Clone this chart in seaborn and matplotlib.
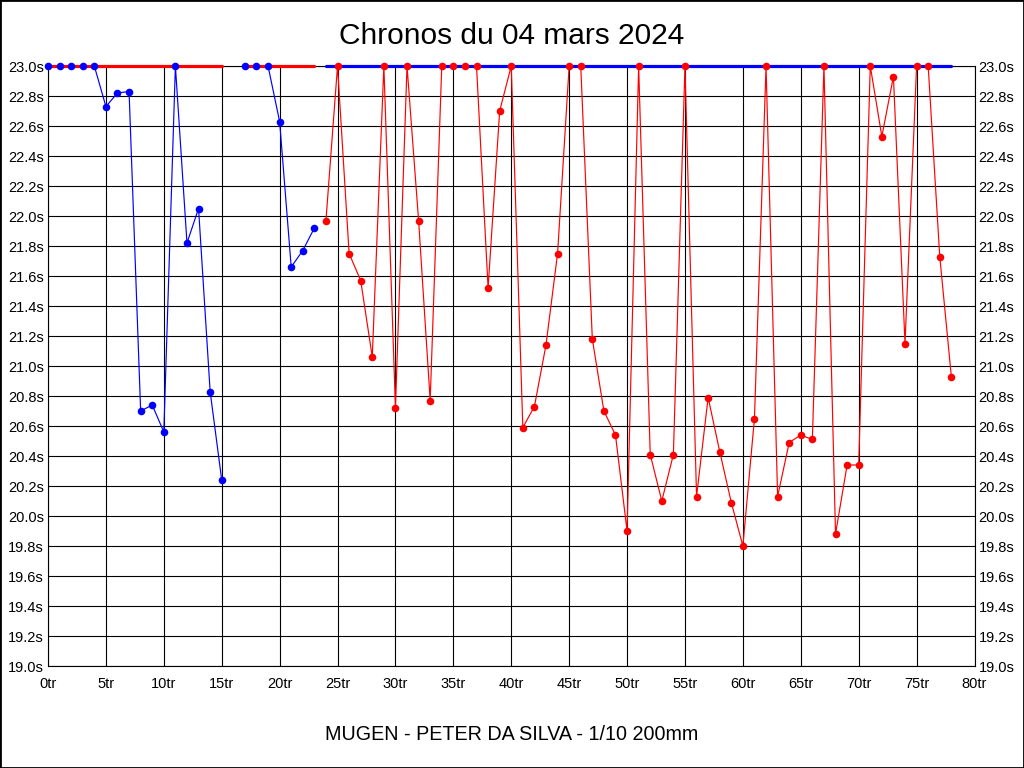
import numpy as np
import pandas as pd
import matplotlib
matplotlib.use("Agg")
import matplotlib.pyplot as plt
from matplotlib.patches import Rectangle
import seaborn as sns

# ---------------- data ----------------
INF = np.inf   # lap time above the scale (drawn as a bar on the top edge)
NA = np.nan    # no lap

laps = list(range(0, 79))

blue_times = [23.0, 23.0, 23.0, 23.0, 23.0, 22.73, 22.82, 22.83, 20.70, 20.74,
              20.56, 23.0, 21.82, 22.05, 20.83, 20.24, NA, 23.0, 23.0, 23.0,
              22.63, 21.66, 21.77, 21.92] + [INF] * 55

red_times = [INF] * 16 + [NA] + [INF] * 7 + [
    21.97, 23.0, 21.75, 21.57, 21.06, 23.0, 20.72, 23.0, 21.97, 20.77,
    23.0, 23.0, 23.0, 23.0, 21.52, 22.70, 23.0, 20.59, 20.73, 21.14,
    21.75, 23.0, 23.0, 21.18, 20.70, 20.54, 19.90, 23.0, 20.41, 20.10,
    20.41, 23.0, 20.13, 20.79, 20.43, 20.09, 19.80, 20.65, 23.0, 20.13,
    20.49, 20.54, 20.51, 23.0, 19.88, 20.34, 20.34, 23.0, 22.53, 22.93,
    21.15, 23.0, 23.0, 21.73, 20.93]

series_names = ["blue", "red"]
series_colors = {"blue": "#0000FF", "red": "#FF0000"}

y_ticks = [19.0 + 0.2 * i for i in range(21)]
y_labels = [f"{v:.1f}s" for v in y_ticks]
x_ticks = list(range(0, 81, 5))
x_labels = [f"{v}tr" for v in x_ticks]

title = "Chronos du 04 mars 2024"
subtitle = "MUGEN - PETER DA SILVA - 1/10 200mm"
Y_MIN, Y_MAX = 19.0, 23.0


def segments(name, values):
    """Split a series into runs of finite values and runs of above-scale values."""
    rows = []
    seg = 0
    prev_kind = None
    for lap, v in zip(laps, values):
        if np.isnan(v):
            kind = None
        elif np.isinf(v):
            kind = "over"
        else:
            kind = "data"
        if kind != prev_kind:
            seg += 1
        prev_kind = kind
        if kind is None:
            continue
        rows.append({"lap": lap, "time": min(v, Y_MAX), "series": name,
                     "kind": kind, "seg": f"{name}-{seg}"})
    return rows


rows = segments("blue", blue_times) + segments("red", red_times)
df = pd.DataFrame(rows)

# ---------------- plot ----------------
sns.set_style("white")
plt.rcParams["font.family"] = ["Liberation Sans", "DejaVu Sans"]
plt.rcParams["text.color"] = "black"
plt.rcParams["xtick.color"] = "black"
plt.rcParams["ytick.color"] = "black"

fig = plt.figure(figsize=(10.24, 7.68), dpi=100)
ax = fig.add_axes([48 / 1024, 1 - 666 / 768, 926.5 / 1024, 600 / 768])

data_df = df[df["kind"] == "data"]
over_df = df[df["kind"] == "over"]

# thin lines
for name in series_names:
    sub = data_df[data_df["series"] == name]
    sns.lineplot(data=sub, x="lap", y="time", units="seg", estimator=None,
                 color=series_colors[name], linewidth=0.85, ax=ax,
                 legend=False, zorder=3, sort=False)

# thick bars on the top edge for laps above the scale
for name in series_names:
    sub = over_df[over_df["series"] == name]
    sns.lineplot(data=sub, x="lap", y="time", units="seg", estimator=None,
                 color=series_colors[name], linewidth=2.3, ax=ax,
                 legend=False, zorder=4, sort=False)

# markers
for name in series_names:
    sub = data_df[data_df["series"] == name]
    sns.scatterplot(data=sub, x="lap", y="time", color=series_colors[name],
                    s=30, linewidth=0, ax=ax, legend=False, zorder=5)

for coll in ax.collections:
    coll.set_clip_on(False)
for ln in ax.lines:
    ln.set_clip_on(False)

ax.set_xlim(0, 80)
ax.set_ylim(Y_MIN, Y_MAX)
ax.set_xticks(x_ticks)
ax.set_xticklabels(x_labels)
ax.set_yticks(y_ticks)
ax.set_yticklabels(y_labels)
ax.tick_params(axis="both", length=0, labelsize=10.5, colors="black",
               labelcolor="black")
ax.tick_params(axis="y", pad=3, labelright=True, right=False)
ax.tick_params(axis="x", pad=8)
ax.set_xlabel("")
ax.set_ylabel("")
ax.grid(True, color="black", linewidth=0.8)
ax.set_axisbelow(True)
for sp in ax.spines.values():
    sp.set_color("black")
    sp.set_linewidth(0.8)

fig.text(0.5, 1 - 36 / 768, title, ha="center", va="center", fontsize=21.5,
         color="black")
fig.text(0.5, 1 - 734 / 768, subtitle, ha="center", va="center", fontsize=14.2,
         color="black")
fig.add_artist(Rectangle((0, 0), 1, 1, transform=fig.transFigure, fill=False,
                         edgecolor="black", linewidth=2))

fig.savefig("out.png", dpi=100, facecolor="white")
